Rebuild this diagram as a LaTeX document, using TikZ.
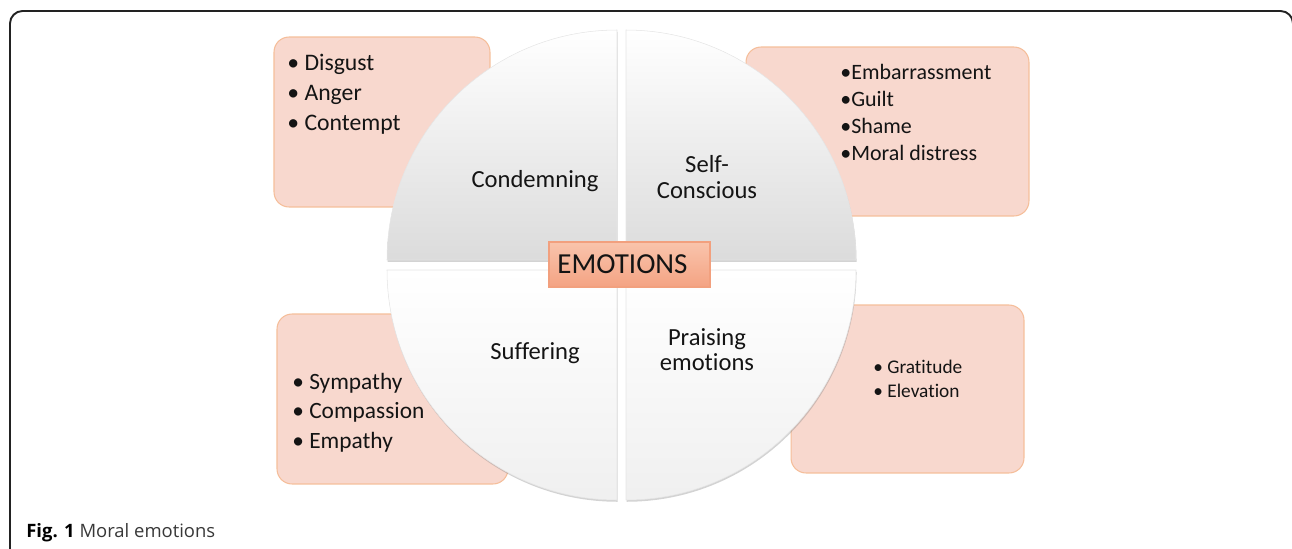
\documentclass[tikz,border=0pt]{standalone}
\usepackage{fontspec}
\setmainfont{Carlito}[Ligatures = NoCommon]
\newfontfamily\capfont{Open Sans}
\usetikzlibrary{shadows}

\definecolor{pinkfill}{HTML}{F8D8CE}
\definecolor{pinkedge}{HTML}{F5BE9A}
\definecolor{emotop}{HTML}{F9C4AC}
\definecolor{emobot}{HTML}{F4A383}
\definecolor{emoedge}{HTML}{F2A07E}
\definecolor{framegray}{HTML}{222222}

\tikzset{
	listbox/.style = {draw = pinkedge, fill = pinkfill, rounded corners = 0.3cm, line width = 0.6pt, inner sep = 0},
	listtext/.style = {anchor = base west, inner sep = 0, text = black!92},
	quarter/.style = {top color = white, bottom color = black!14, draw = black!10, line width = 0.3pt,
		drop shadow = {opacity = 0.35, shadow xshift = 0.3pt, shadow yshift = -1pt}},
	quarterlow/.style = {quarter, bottom color = black!6},
	quadtext/.style = {inner sep = 0, text = black!92, font = \fontsize{14}{14.6}\selectfont}
}

\begin{document}
\begin{tikzpicture}[x = 0.02cm, y = 0.02cm]
	\useasboundingbox (0, 0) rectangle (1292, -548);
	\clip (0, 0) rectangle (1292, -548);
	\draw[framegray, line width = 1.1pt, rounded corners = 0.25cm] (10, -560) -- (10, -11) -- (1293, -11) -- (1293, -560);

	% pink boxes behind the circle
	\node[listbox, minimum width = 4.32cm, minimum height = 3.4cm] (condbox) at (382, -122) {};
	\node[listbox, minimum width = 5.66cm, minimum height = 3.38cm] (selfbox) at (887.5, -131.5) {};
	\node[listbox, minimum width = 4.62cm, minimum height = 3.4cm] (suffbox) at (392.5, -399) {};
	\node[listbox, minimum width = 4.66cm, minimum height = 3.36cm] (praisebox) at (907.5, -389) {};

	\foreach \t [count = \k] in {Disgust, Anger, Contempt}
		\node[listtext, font = \fontsize{13.5}{16}\selectfont] (cond\k) at (287, {-70 - 30 * (\k - 1)}) {\textbullet\ \t};
	\foreach \t [count = \k] in {Embarrassment, Guilt, Shame, Moral distress}
		\node[listtext, font = \fontsize{12.5}{15}\selectfont] (self\k) at (840, {-79 - 27 * (\k - 1)}) {\textbullet\t};
	\foreach \t [count = \k] in {Sympathy, Compassion, Empathy}
		\node[listtext, font = \fontsize{13.3}{16}\selectfont] (suff\k) at (292, {-389 - 29.5 * (\k - 1)}) {\textbullet\ \t};
	\foreach \t [count = \k] in {Gratitude, Elevation}
		\node[listtext, font = \fontsize{11}{13}\selectfont] (praise\k) at (873, {-373 - 24.5 * (\k - 1)}) {\textbullet\ \t};

	% four quarters of the circle
	\path[quarter] (617, -260) -- ++(-230, 0) arc[start angle = 180, end angle = 90, radius = 230] -- cycle;
	\path[quarter] (626, -260) -- ++(230, 0) arc[start angle = 0, end angle = 90, radius = 230] -- cycle;
	\path[quarterlow] (617, -270) -- ++(-230, 0) arc[start angle = 180, end angle = 270, radius = 230] -- cycle;
	\path[quarterlow] (626, -270) -- ++(230, 0) arc[start angle = 0, end angle = -90, radius = 230] -- cycle;

	\node[quadtext, anchor = base] (condemning) at (535, -187) {Condemning};
	\node[quadtext, anchor = north, align = center] (selfcon) at (707, -155) {Self-\\Conscious};
	\node[quadtext, anchor = base] (suffering) at (535, -359) {Suffering};
	\node[quadtext, anchor = north, align = center] (praising) at (707, -328) {Praising\\emotions};

	\node[draw = emoedge, top color = emotop, bottom color = emobot, line width = 0.6pt,
		minimum width = 3.22cm, minimum height = 0.9cm, text = black!92,
		font = \fontsize{16.5}{18}\selectfont] (emotions) at (629.5, -264.5) {EMOTIONS\hspace*{8pt}};

	\node[anchor = base west, inner sep = 0, font = \capfont\fontsize{10.5}{12}\selectfont] (caption) at (26, -537)
		{\textbf{Fig. 1} \textcolor{black!78}{Moral emotions}};
\end{tikzpicture}
\end{document}
